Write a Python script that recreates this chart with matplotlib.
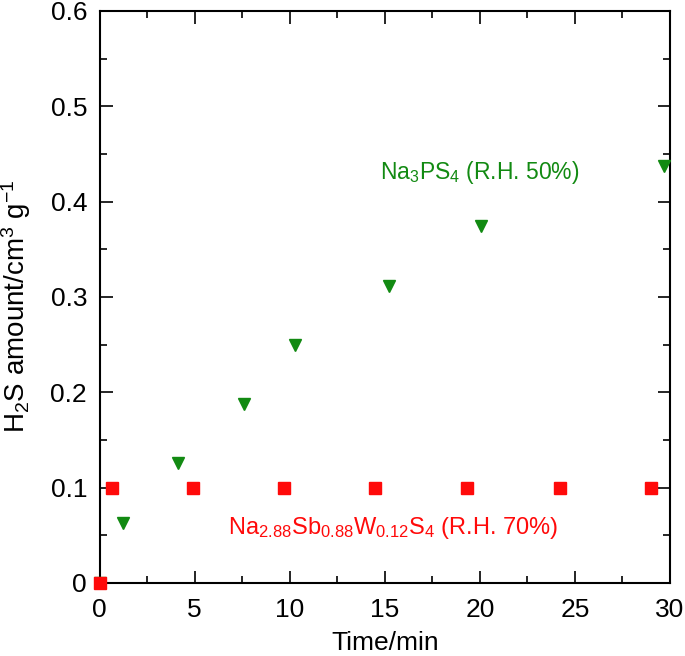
import matplotlib.pyplot as plt
from matplotlib.ticker import MultipleLocator

# dados
t_nps = [0, 1.24, 4.13, 7.6, 10.28, 15.23, 20.06, 29.7]
h2s_nps = [0, 0.063, 0.126, 0.188, 0.25, 0.312, 0.375, 0.437]

t_nsws = [0, 0.67, 4.9, 9.7, 14.5, 19.35, 24.2, 29.0]
h2s_nsws = [0, 0.1, 0.1, 0.1, 0.1, 0.1, 0.1, 0.1]

verde = '#128a12'
vermelho = '#ff0a0a'

plt.rcParams['font.family'] = ['Liberation Sans', 'DejaVu Sans']
plt.rcParams['mathtext.fontset'] = 'custom'
plt.rcParams['mathtext.rm'] = 'Liberation Sans'
plt.rcParams['mathtext.it'] = 'Liberation Sans'

fig = plt.figure(figsize=(6.85, 6.56), dpi=100)
ax = fig.add_axes([99.5 / 685, 73 / 656, 570.5 / 685, 572 / 656])

ax.plot(t_nps, h2s_nps, linestyle='none', marker='v', markersize=9, color=verde, zorder=3,
        clip_on=False)
ax.plot(t_nsws, h2s_nsws, linestyle='none', marker='s', markersize=8, color=vermelho, zorder=4,
        clip_on=False)

ax.text(14.75, 0.431, r'Na$_3$PS$_4$ (R.H. 50%)', color=verde, fontsize=16.5, va='center')
ax.text(6.75, 0.058, r'Na$_{2.88}$Sb$_{0.88}$W$_{0.12}$S$_4$ (R.H. 70%)', color=vermelho,
        fontsize=17, va='center')

ax.set_xlim(0, 30)
ax.set_ylim(0, 0.6)
ax.xaxis.set_minor_locator(MultipleLocator(2.5))
ax.yaxis.set_minor_locator(MultipleLocator(0.05))
ax.set_yticks([0, 0.1, 0.2, 0.3, 0.4, 0.5, 0.6])
ax.set_yticklabels(['0', '0.1', '0.2', '0.3', '0.4', '0.5', '0.6'])
ax.set_xticks([0, 5, 10, 15, 20, 25, 30])
ax.set_xticklabels(['0', '5', '10', '15', '20', '25', '30'])

ax.tick_params(which='both', direction='in', top=True, right=True, labelsize=19, width=1.2)
ax.tick_params(which='major', length=9, pad=9)
ax.tick_params(axis='x', which='major', pad=11)
ax.tick_params(which='minor', length=5)
for s in ax.spines.values():
    s.set_linewidth(1.5)

ax.set_xlabel('Time/min', fontsize=19, labelpad=6)
ax.set_ylabel(r'H$_2$S amount/cm$^3$ g$^{-1}$', fontsize=20)
ax.yaxis.set_label_coords(-0.117, 0.484)

plt.savefig('out.png', dpi=100)
